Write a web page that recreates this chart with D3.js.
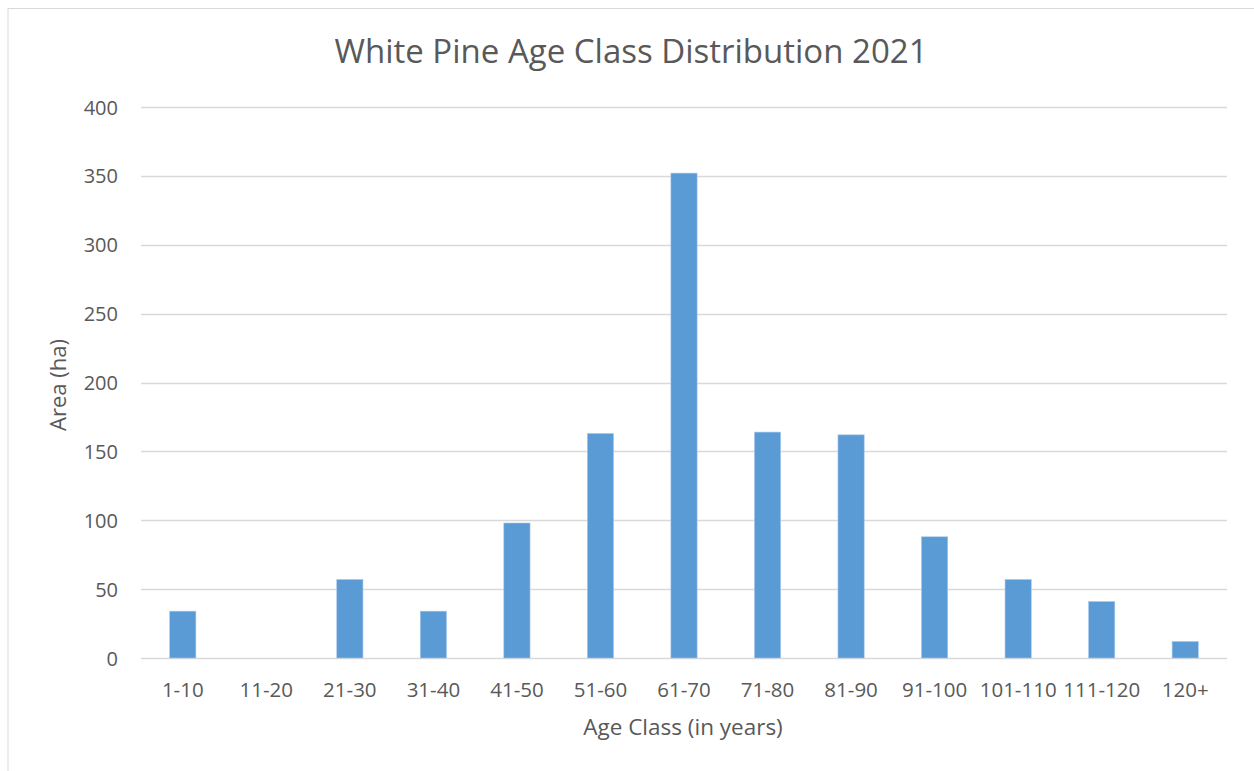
<!DOCTYPE html>
<html>
<head>
<meta charset="utf-8">
<script src="https://cdn.jsdelivr.net/npm/d3@7"></script>
<style>
  html, body { margin: 0; padding: 0; background: #fff; }
  svg { display: block; }
  text { font-family: "Open Sans", "Liberation Sans", sans-serif; fill: #595959; }
</style>
</head>
<body>
<svg id="chart" width="1254" height="771"></svg>
<script>
// Age classes and stand area (ha) per class
const categories = ["1-10", "11-20", "21-30", "31-40", "41-50", "51-60", "61-70",
  "71-80", "81-90", "91-100", "101-110", "111-120", "120+"];
const areaHa = [34, 0, 57, 34, 98, 163, 352, 164, 162, 88, 57, 41, 12];
const yTicks = [0, 50, 100, 150, 200, 250, 300, 350, 400];

const svg = d3.select("#chart");
const W = 1254, H = 771;
const margin = { left: 141, right: 1227, top: 107, bottom: 658 };

// Chart frame
svg.append("rect")
  .attr("x", 8).attr("y", 8.5)
  .attr("width", W + 10).attr("height", H + 10)
  .attr("fill", "#fff").attr("stroke", "#d9d9d9").attr("stroke-width", 1);

const x = d3.scaleBand()
  .domain(categories)
  .range([margin.left, margin.right])
  .paddingInner(0.686)
  .paddingOuter(0.343);

const y = d3.scaleLinear()
  .domain([0, 400])
  .range([margin.bottom, margin.top]);

// Horizontal gridlines
svg.append("g")
  .selectAll("line")
  .data(yTicks)
  .join("line")
  .attr("x1", margin.left).attr("x2", margin.right)
  .attr("y1", d => Math.round(y(d)) + 0.5).attr("y2", d => Math.round(y(d)) + 0.5)
  .attr("stroke", "#d9d9d9").attr("stroke-width", 1.5);

// Y tick labels
const yAxis = d3.axisLeft(y).tickValues(yTicks).tickSize(0).tickPadding(0);
const gy = svg.append("g")
  .attr("transform", `translate(${margin.left - 23},0)`)
  .call(yAxis);
gy.select(".domain").remove();
gy.selectAll("text")
  .style("font-size", "20px")
  .attr("fill", "#595959")
  .attr("dy", "0.35em");

// Bars
svg.append("g")
  .selectAll("rect")
  .data(categories.map((c, i) => ({ c, v: areaHa[i] })))
  .join("rect")
  .attr("x", d => x(d.c))
  .attr("y", d => y(d.v))
  .attr("width", x.bandwidth())
  .attr("height", d => y(0) - y(d.v))
  .attr("fill", "#5b9bd5")
  .attr("stroke", d => d.v > 0 ? "#a9c8ea" : "none")
  .attr("stroke-width", 0.6);

// X tick labels
const xAxis = d3.axisBottom(x).tickSize(0).tickPadding(0);
const gx = svg.append("g")
  .attr("transform", `translate(0,${margin.bottom + 32})`)
  .call(xAxis);
gx.select(".domain").remove();
gx.selectAll("text")
  .style("font-size", "20.5px")
  .attr("fill", "#595959")
  .attr("dy", "0.35em");

// Title
svg.append("text")
  .attr("x", 631).attr("y", 54)
  .attr("text-anchor", "middle")
  .attr("dominant-baseline", "middle")
  .style("font-size", "33px")
  .text("White Pine Age Class Distribution 2021");

// Axis titles
svg.append("text")
  .attr("x", 683).attr("y", 729)
  .attr("text-anchor", "middle")
  .attr("dominant-baseline", "middle")
  .style("font-size", "22.5px")
  .text("Age Class (in years)");

svg.append("text")
  .attr("transform", "translate(60,385) rotate(-90)")
  .attr("text-anchor", "middle")
  .attr("dominant-baseline", "middle")
  .style("font-size", "22px")
  .text("Area (ha)");
</script>
</body>
</html>
